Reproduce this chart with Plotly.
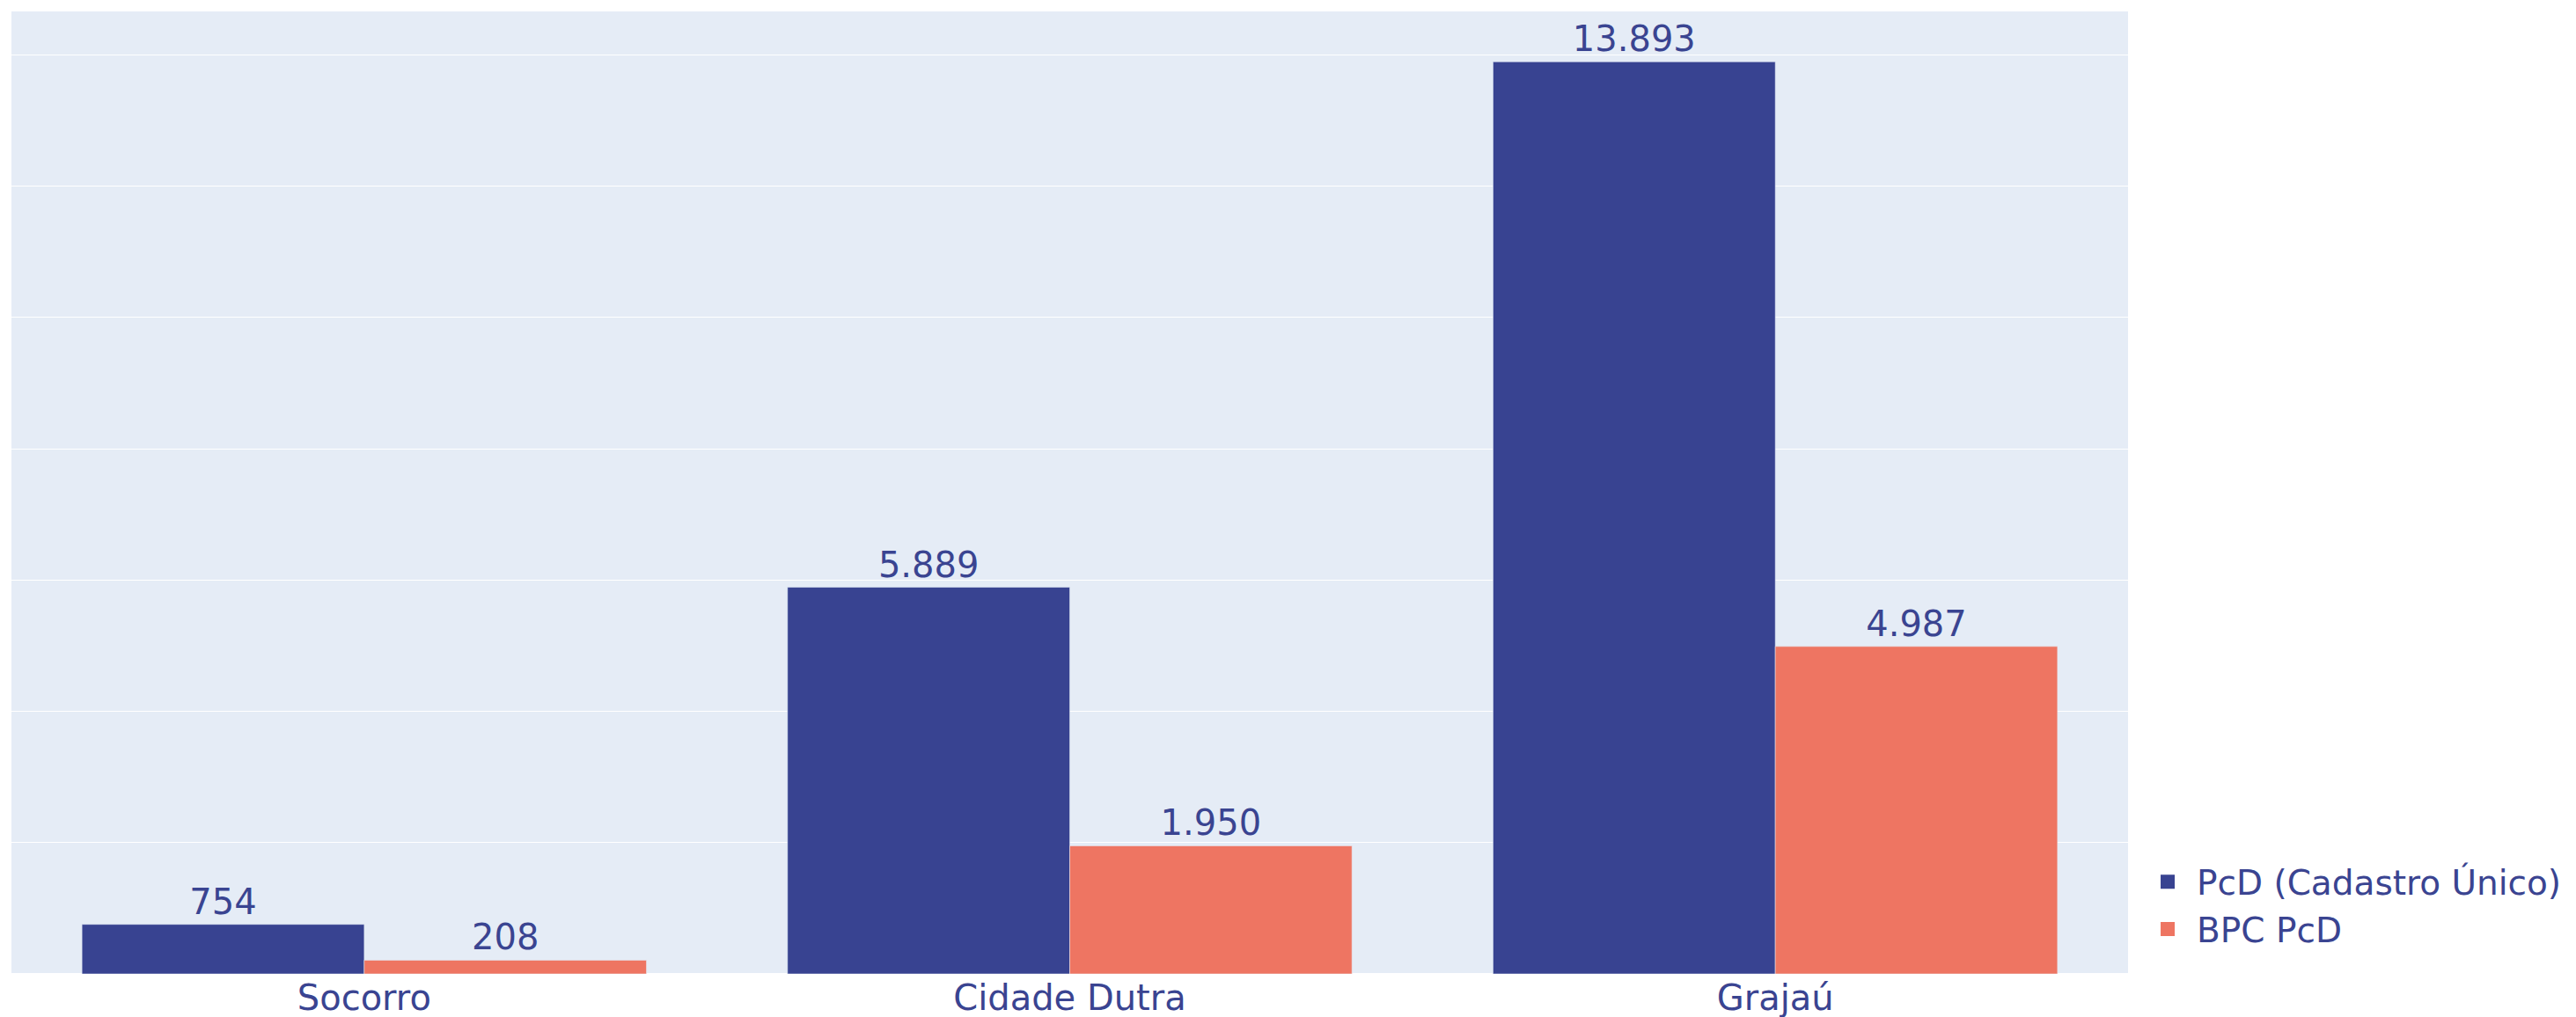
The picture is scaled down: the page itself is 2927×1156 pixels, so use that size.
import plotly.graph_objects as go

# distritos e contagens
distritos = ['Socorro', 'Cidade Dutra', 'Grajaú']
pcd_cadunico = [754, 5889, 13893]
bpc_pcd = [208, 1950, 4987]
nomes = ['PcD (Cadastro Único)', 'BPC PcD']

cor_azul = 'rgb(56, 67, 145)'
cor_salmao = 'rgb(238, 117, 98)'
cor_texto = 'rgb(58, 68, 145)'

fig = go.Figure()
for nome, valores, cor in zip(nomes, [pcd_cadunico, bpc_pcd], [cor_azul, cor_salmao]):
    fig.add_trace(go.Bar(
        name=nome,
        x=distritos,
        y=valores,
        marker=dict(color=cor),
        texttemplate='%{y:,.0f}',
        textposition='outside',
        showlegend=False,
    ))

# entradas da legenda com quadrado maior
for nome, cor in zip(nomes, [cor_azul, cor_salmao]):
    fig.add_trace(go.Scatter(
        name=nome,
        x=[None],
        y=[None],
        mode='markers',
        marker=dict(symbol='square', size=16, color=cor),
    ))

fig.update_layout(
    template='plotly',
    barmode='group',
    separators=',.',
    width=2919,
    height=1148,
    margin=dict(l=5, r=509, t=5, b=49),
    font=dict(family='Verdana, DejaVu Sans, sans-serif', size=40, color=cor_texto),
    legend=dict(x=1.005, y=0.017, yanchor='bottom',
                itemsizing='trace', itemwidth=56, tracegroupgap=0,
                font=dict(size=39)),
    xaxis=dict(showgrid=False, automargin=False),
    yaxis=dict(showticklabels=False, range=[0, 14660], dtick=2000,
               automargin=False),
)

fig.write_html("out.html")
